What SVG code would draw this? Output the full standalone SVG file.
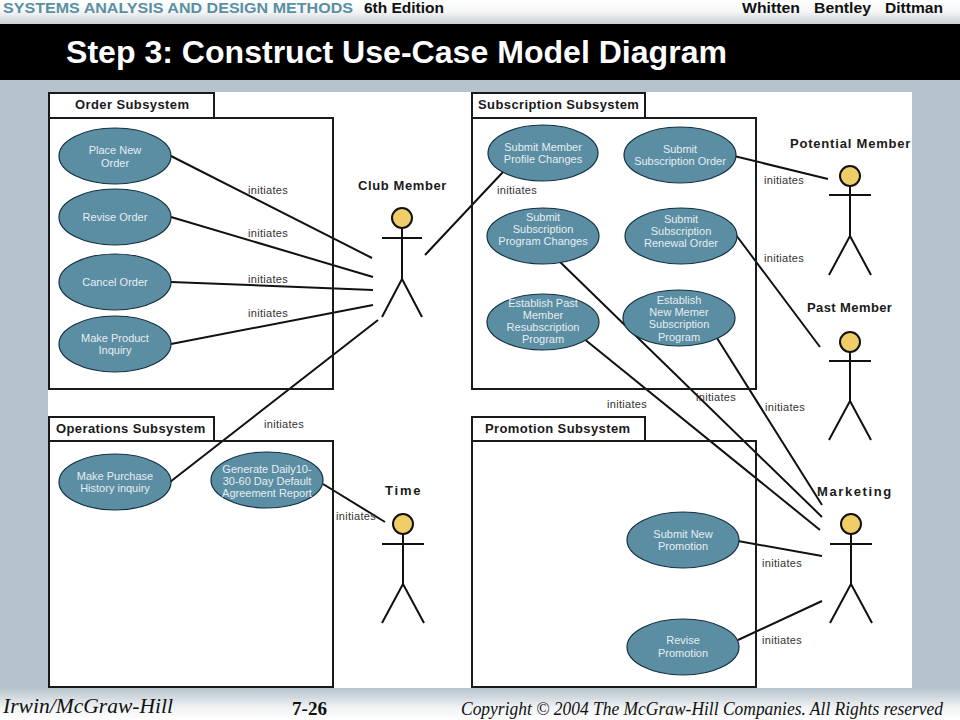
<svg xmlns="http://www.w3.org/2000/svg" width="960" height="720" viewBox="0 0 960 720">
<defs>
<linearGradient id="top" x1="0" y1="0" x2="0" y2="1"><stop offset="0" stop-color="#ffffff"/><stop offset="0.5" stop-color="#f4f5f6"/><stop offset="1" stop-color="#c9cfd4"/></linearGradient>
<linearGradient id="bot" x1="0" y1="0" x2="0" y2="1"><stop offset="0" stop-color="#b6c3cc"/><stop offset="0.6" stop-color="#f0f2f4"/><stop offset="1" stop-color="#ffffff"/></linearGradient>
</defs>
<style>
text{font-family:"Liberation Sans",Arial,sans-serif}
.b{fill:none;stroke:#1a1a1a;stroke-width:2}
.c{fill:none;stroke:#111;stroke-width:2}
.e{fill:#5b8da3;stroke:#123040;stroke-width:1.2}
.u{font-size:11px;fill:#e6eef2;text-anchor:middle}
.i{font-size:11px;fill:#333;letter-spacing:.3px}
.h{font-size:13px;font-weight:bold;fill:#1a1a1a;letter-spacing:.4px}
.s{fill:none;stroke:#111;stroke-width:2}
.d{fill:#f0cd66;stroke:#111;stroke-width:2}
.f{font-family:"Liberation Serif",serif;font-style:italic;fill:#111}
.t{font-size:15px;font-weight:bold;fill:#111}
</style>
<rect width="960" height="720" fill="#b6c3cc"/>
<rect width="960" height="24" fill="url(#top)"/>
<rect y="24" width="960" height="56" fill="#000"/>
<rect y="688" width="960" height="32" fill="url(#bot)"/>
<rect x="48" y="92" width="864" height="596" fill="#fff"/>
<text class="t" x="3" y="13" style="fill:#5a90a4" textLength="350" lengthAdjust="spacingAndGlyphs">SYSTEMS ANALYSIS AND DESIGN METHODS</text>
<text class="t" x="364" y="13" textLength="80" lengthAdjust="spacingAndGlyphs">6th Edition</text>
<text class="t" x="742" y="13" textLength="58" lengthAdjust="spacingAndGlyphs">Whitten</text>
<text class="t" x="814" y="13" textLength="57" lengthAdjust="spacingAndGlyphs">Bentley</text>
<text class="t" x="885" y="13" textLength="58" lengthAdjust="spacingAndGlyphs">Dittman</text>
<text x="66" y="63" font-size="31" font-weight="bold" fill="#fff" textLength="661" lengthAdjust="spacingAndGlyphs">Step 3: Construct Use-Case Model Diagram</text>
<text class="f" x="3" y="713" font-size="20" textLength="170" lengthAdjust="spacingAndGlyphs">Irwin/McGraw-Hill</text>
<text class="f" x="292" y="715" font-size="18" font-weight="bold" style="font-style:normal" textLength="35" lengthAdjust="spacingAndGlyphs">7-26</text>
<text class="f" x="461" y="715" font-size="18" textLength="482" lengthAdjust="spacingAndGlyphs">Copyright © 2004 The McGraw-Hill  Companies. All Rights reserved</text>

<g id="connectors">
<path class="c" d="M171 156L372 258M171 217L373 277M171 282L373 290M171 344L373 305M170 482L378 320"/>
<path class="c" d="M425 255L503 172M734 156L828 179M736 235L820 347M323 484L385 522"/>
<path class="c" d="M558 260L822 517M583 338L820 530M717 338L822 505M738 541L822 556M738 640L822 601"/>
</g>
<g id="labels">
<text class="i" x="248" y="194">initiates</text><text class="i" x="248" y="237">initiates</text><text class="i" x="248" y="283">initiates</text><text class="i" x="248" y="317">initiates</text>
<text class="i" x="264" y="428">initiates</text><text class="i" x="336" y="520">initiates</text><text class="i" x="497" y="194">initiates</text>
<text class="i" x="764" y="184">initiates</text><text class="i" x="764" y="262">initiates</text><text class="i" x="765" y="411">initiates</text>
<text class="i" x="607" y="408">initiates</text><text class="i" x="696" y="401">initiates</text><text class="i" x="762" y="567">initiates</text><text class="i" x="762" y="644">initiates</text>
</g>
<g id="order-subsystem"><rect class="b" x="49" y="93" width="165" height="25"/><rect class="b" x="49" y="118" width="284" height="271"/><text class="h" x="75" y="109">Order Subsystem</text></g>
<g id="subscription-subsystem"><rect class="b" x="472" y="93" width="173" height="25"/><rect class="b" x="472" y="118" width="284" height="271"/><text class="h" x="478" y="109">Subscription Subsystem</text></g>
<g id="operations-subsystem"><rect class="b" x="49" y="417" width="165" height="24"/><rect class="b" x="49" y="441" width="284" height="246"/><text class="h" x="56" y="433">Operations Subsystem</text></g>
<g id="promotion-subsystem"><rect class="b" x="472" y="417" width="173" height="24"/><rect class="b" x="472" y="441" width="284" height="246"/><text class="h" x="485" y="433">Promotion Subsystem</text></g>

<g id="uc-place"><ellipse class="e" cx="115" cy="156" rx="56" ry="28"/><text class="u" x="115" y="154">Place New</text><text class="u" x="115" y="167">Order</text></g>
<g id="uc-revise"><ellipse class="e" cx="115" cy="217" rx="56" ry="28"/><text class="u" x="115" y="221">Revise Order</text></g>
<g id="uc-cancel"><ellipse class="e" cx="115" cy="282" rx="56" ry="28"/><text class="u" x="115" y="286">Cancel Order</text></g>
<g id="uc-inquiry"><ellipse class="e" cx="115" cy="344" rx="56" ry="28"/><text class="u" x="115" y="342">Make Product</text><text class="u" x="115" y="354">Inquiry</text></g>
<g id="uc-profile"><ellipse class="e" cx="543" cy="153" rx="55" ry="28"/><text class="u" x="543" y="151">Submit Member</text><text class="u" x="543" y="163">Profile Changes</text></g>
<g id="uc-suborder"><ellipse class="e" cx="680" cy="155" rx="56" ry="28"/><text class="u" x="680" y="153">Submit</text><text class="u" x="680" y="165">Subscription Order</text></g>
<g id="uc-program"><ellipse class="e" cx="543" cy="236" rx="56" ry="28"/><text class="u" x="543" y="221">Submit</text><text class="u" x="543" y="233">Subscription</text><text class="u" x="543" y="245">Program Changes</text></g>
<g id="uc-renewal"><ellipse class="e" cx="681" cy="236" rx="56" ry="28"/><text class="u" x="681" y="223">Submit</text><text class="u" x="681" y="235">Subscription</text><text class="u" x="681" y="247">Renewal Order</text></g>
<g id="uc-resub"><ellipse class="e" cx="543" cy="322" rx="56" ry="28"/><text class="u" x="543" y="307">Establish Past</text><text class="u" x="543" y="319">Member</text><text class="u" x="543" y="331">Resubscription</text><text class="u" x="543" y="343">Program</text></g>
<g id="uc-newsub"><ellipse class="e" cx="679" cy="318" rx="56" ry="28"/><text class="u" x="679" y="304">Establish</text><text class="u" x="679" y="316">New Memer</text><text class="u" x="679" y="328">Subscription</text><text class="u" x="679" y="341">Program</text></g>
<g id="uc-history"><ellipse class="e" cx="115" cy="482" rx="56" ry="28"/><text class="u" x="115" y="480">Make Purchase</text><text class="u" x="115" y="492">History inquiry</text></g>
<g id="uc-report"><ellipse class="e" cx="267" cy="480" rx="56" ry="28"/><text class="u" x="267" y="473">Generate Daily10-</text><text class="u" x="267" y="485">30-60 Day Default</text><text class="u" x="267" y="497">Agreement Report</text></g>
<g id="uc-newpromo"><ellipse class="e" cx="683" cy="540" rx="56" ry="28"/><text class="u" x="683" y="538">Submit New</text><text class="u" x="683" y="550">Promotion</text></g>
<g id="uc-revpromo"><ellipse class="e" cx="683" cy="647" rx="56" ry="28"/><text class="u" x="683" y="644">Revise</text><text class="u" x="683" y="657">Promotion</text></g>

<g id="club-member"><text class="h" x="358" y="190" style="letter-spacing:.6px">Club Member</text><circle class="d" cx="402" cy="218" r="10"/><path class="s" d="M402 228V279M382 238H422M402 279L382 317M402 279L422 317"/></g>
<g id="time"><text class="h" x="385" y="495" style="letter-spacing:1.8px">Time</text><circle class="d" cx="403" cy="524" r="10"/><path class="s" d="M403 534V584M382 544H424M403 584L382 623M403 584L424 623"/></g>
<g id="potential-member"><text class="h" x="790" y="148" style="letter-spacing:.8px">Potential Member</text><circle class="d" cx="850" cy="176" r="10"/><path class="s" d="M850 186V236M829 195H871M850 236L829 275M850 236L871 275"/></g>
<g id="past-member"><text class="h" x="807" y="312">Past Member</text><circle class="d" cx="850" cy="342" r="10"/><path class="s" d="M850 352V401M829 361H871M850 401L829 440M850 401L871 440"/></g>
<g id="marketing"><text class="h" x="817" y="496" style="letter-spacing:1.6px">Marketing</text><circle class="d" cx="851" cy="524" r="10"/><path class="s" d="M851 534V584M830 544H872M851 584L830 623M851 584L872 623"/></g>
</svg>
